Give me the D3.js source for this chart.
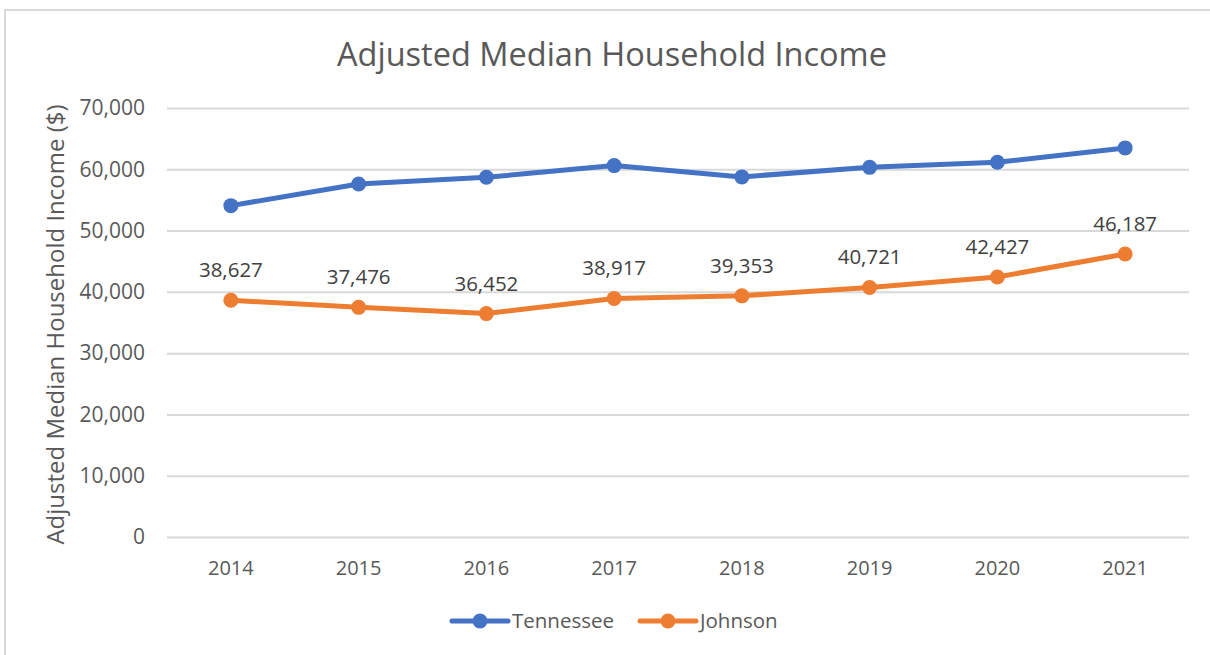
<!DOCTYPE html>
<html>
<head>
<meta charset="utf-8">
<script src="https://cdn.jsdelivr.net/npm/d3@7"></script>
<style>
  body { margin: 0; background: #fff; }
  svg { display: block; font-family: "Open Sans", sans-serif; }
</style>
</head>
<body>
<div id="chart"></div>
<script>
var years = ['2014', '2015', '2016', '2017', '2018', '2019', '2020', '2021'];
var tennessee = [54070, 57610, 58690, 60600, 58760, 60320, 61140, 63490];
var johnson = [38627, 37476, 36452, 38917, 39353, 40721, 42427, 46187];
var seriesNames = ['Tennessee', 'Johnson'];
var seriesColors = ['#4472c4', '#ed7d31'];
var yTicks = [0, 10000, 20000, 30000, 40000, 50000, 60000, 70000];

var width = 1210, height = 655;
var margin = {top: 108, right: 21, bottom: 118, left: 167};
var plotW = width - margin.left - margin.right;
var plotH = height - margin.top - margin.bottom;

var svg = d3.select('#chart')
    .append('svg')
    .attr('width', width)
    .attr('height', height);

// chart border
svg.append('rect')
    .attr('x', 5)
    .attr('y', 10)
    .attr('width', width + 10)
    .attr('height', height + 10)
    .attr('fill', 'none')
    .attr('stroke', '#d9d9d9')
    .attr('stroke-width', 2);

svg.append('text')
    .attr('x', 612)
    .attr('y', 66)
    .attr('text-anchor', 'middle')
    .attr('fill', '#595959')
    .style('font-size', '32.5px')
    .text('Adjusted Median Household Income');

var g = svg.append('g')
    .attr('transform', `translate(${margin.left},${margin.top})`);

var x = d3.scaleBand()
    .domain(years)
    .range([0, plotW]);

var y = d3.scaleLinear()
    .domain([0, 70000])
    .range([plotH, 0]);

var fmt = d3.format(',');

// gridlines + y labels
var yAxis = g.append('g')
    .call(d3.axisLeft(y)
        .tickValues(yTicks)
        .tickSize(-plotW)
        .tickPadding(22)
        .tickFormat(fmt));
yAxis.select('.domain').remove();
yAxis.selectAll('line')
    .attr('stroke', '#d9d9d9')
    .attr('stroke-width', 2);
yAxis.selectAll('text')
    .attr('fill', '#595959')
    .style('font-size', '21px')
    .style('font-family', '"Open Sans", sans-serif');

var xAxis = g.append('g')
    .attr('transform', `translate(0,${plotH})`)
    .call(d3.axisBottom(x).tickSize(0).tickPadding(24));
xAxis.select('.domain').remove();
xAxis.selectAll('text')
    .attr('fill', '#595959')
    .style('font-size', '20px')
    .style('font-family', '"Open Sans", sans-serif');

svg.append('text')
    .attr('transform', `translate(64,${margin.top + plotH / 2 + 2}) rotate(-90)`)
    .attr('text-anchor', 'middle')
    .attr('fill', '#595959')
    .style('font-size', '24px')
    .text('Adjusted Median Household Income ($)');

var line = d3.line()
    .x(function (d, i) { return x(years[i]) + x.bandwidth() / 2; })
    .y(function (d) { return y(d); });

[tennessee, johnson].forEach(function (vals, s) {
    g.append('path')
        .datum(vals)
        .attr('d', line)
        .attr('fill', 'none')
        .attr('stroke', seriesColors[s])
        .attr('stroke-width', 5)
        .attr('stroke-linejoin', 'round')
        .attr('stroke-linecap', 'round');
    g.selectAll('circle.s' + s)
        .data(vals)
        .join('circle')
        .attr('class', 's' + s)
        .attr('cx', function (d, i) { return x(years[i]) + x.bandwidth() / 2; })
        .attr('cy', function (d) { return y(d); })
        .attr('r', 7.5)
        .attr('fill', seriesColors[s]);
});

// data labels for Johnson
g.selectAll('text.lbl')
    .data(johnson)
    .join('text')
    .attr('class', 'lbl')
    .attr('x', function (d, i) { return x(years[i]) + x.bandwidth() / 2; })
    .attr('y', function (d) { return y(d) - 23; })
    .attr('text-anchor', 'middle')
    .attr('fill', '#404040')
    .style('font-size', '20.5px')
    .text(function (d) { return fmt(d); });

// legend
var legendX = [452, 640];
seriesNames.forEach(function (name, s) {
    var lg = svg.append('g')
        .attr('transform', `translate(${legendX[s]},621)`);
    lg.append('line')
        .attr('x1', 0).attr('x2', 56)
        .attr('stroke', seriesColors[s])
        .attr('stroke-width', 5)
        .attr('stroke-linecap', 'round');
    lg.append('circle')
        .attr('cx', 28)
        .attr('r', 7.5)
        .attr('fill', seriesColors[s]);
    lg.append('text')
        .attr('x', 60)
        .attr('dy', '0.35em')
        .attr('fill', '#595959')
        .style('font-size', '20.5px')
        .text(name);
});
</script>
</body>
</html>
